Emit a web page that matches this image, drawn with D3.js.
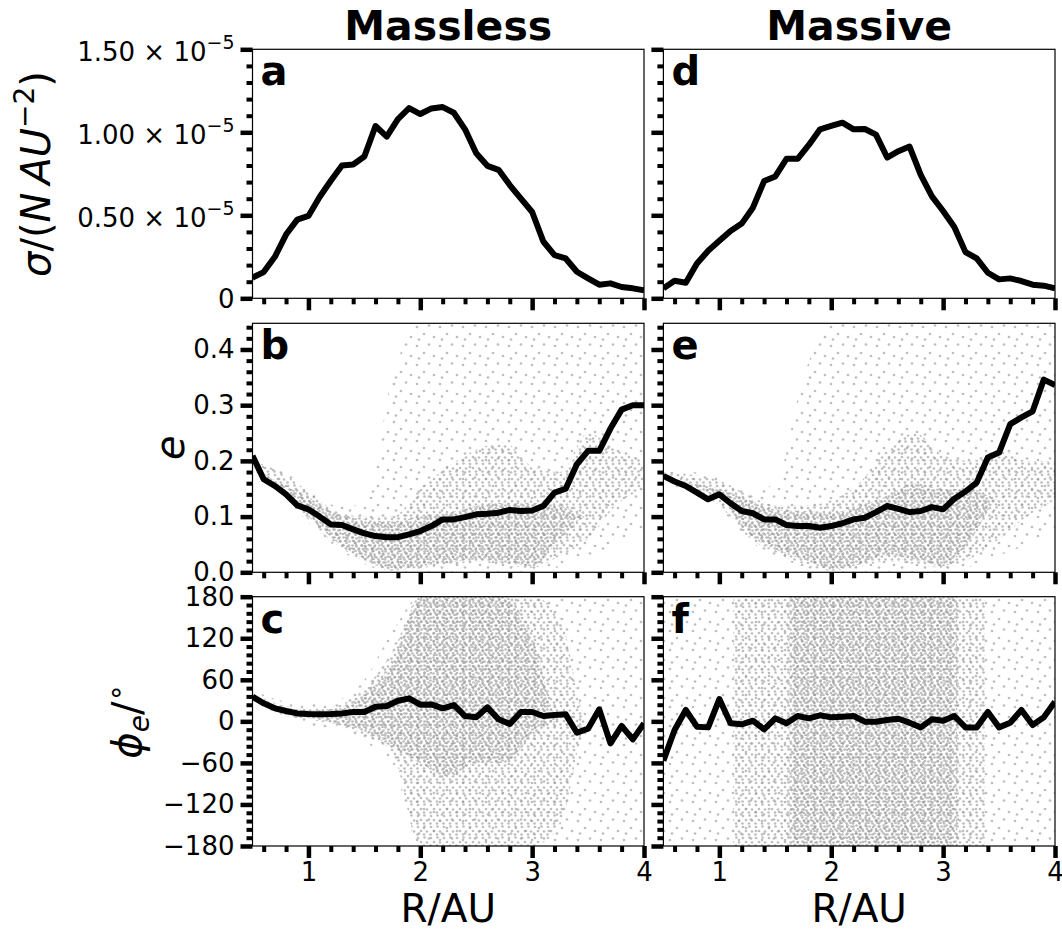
<!DOCTYPE html>
<html>
<head>
<meta charset="utf-8">
<script src="https://cdn.jsdelivr.net/npm/d3@7"></script>
<style>
  body { margin: 0; background: #fff; }
  svg { display: block; font-family: "DejaVu Sans", sans-serif; }
</style>
</head>
<body>
<div id="chart"></div>
<script>
// Radial bins (AU) shared by every curve
const R = [0.5, 0.6, 0.7, 0.8, 0.9, 1.0, 1.1, 1.2, 1.3, 1.4, 1.5, 1.6, 1.7, 1.8, 1.9, 2.0, 2.1, 2.2,
           2.3, 2.4, 2.5, 2.6, 2.7, 2.8, 2.9, 3.0, 3.1, 3.2, 3.3, 3.4, 3.5, 3.6, 3.7, 3.8, 3.9, 4.0];

// surface density, units of 1e-5
const sigmaMassless = [0.124, 0.158, 0.25, 0.384, 0.474, 0.496, 0.61, 0.708, 0.80, 0.806, 0.854, 1.038,
  0.974, 1.08, 1.146, 1.11, 1.144, 1.152, 1.118, 1.018, 0.874, 0.798, 0.774, 0.682, 0.60, 0.52, 0.342,
  0.26, 0.24, 0.16, 0.12, 0.082, 0.09, 0.068, 0.06, 0.048];
const sigmaMassive = [0.06, 0.106, 0.094, 0.21, 0.286, 0.346, 0.406, 0.45, 0.546, 0.706, 0.734, 0.84,
  0.84, 0.924, 1.018, 1.038, 1.058, 1.018, 1.02, 0.986, 0.848, 0.886, 0.914, 0.744, 0.614, 0.526, 0.43,
  0.278, 0.24, 0.154, 0.114, 0.12, 0.104, 0.082, 0.076, 0.06];

// mean eccentricity
const eccMassless = [0.209, 0.167, 0.155, 0.14, 0.12, 0.113, 0.10, 0.086, 0.085, 0.077, 0.07, 0.065,
  0.063, 0.063, 0.068, 0.074, 0.083, 0.095, 0.095, 0.099, 0.104, 0.105, 0.107, 0.112, 0.110, 0.111,
  0.119, 0.143, 0.150, 0.194, 0.218, 0.218, 0.258, 0.292, 0.30, 0.30];
const eccMassive = [0.173, 0.163, 0.155, 0.143, 0.131, 0.14, 0.124, 0.11, 0.106, 0.095, 0.095, 0.085,
  0.083, 0.083, 0.080, 0.083, 0.088, 0.095, 0.098, 0.108, 0.119, 0.114, 0.108, 0.11, 0.117, 0.113,
  0.132, 0.145, 0.161, 0.206, 0.215, 0.266, 0.278, 0.289, 0.346, 0.336];

// mean longitude of pericentre (deg)
const phiMassless = [35.6, 26, 18.8, 14.9, 11.5, 10.6, 10.1, 10.6, 11.5, 13.5, 13.5, 21.2, 22.1, 29.8,
  33.2, 24.1, 24.5, 18.8, 23.6, 7.7, 5.8, 20.2, 2.9, -3.8, 13.5, 13.5, 7.7, 9.1, 10.1, -16.4, -10.6,
  17.3, -31.8, -6.7, -26, -2.9];
const phiMassive = [-56.8, -12.5, 16.4, -7.7, -8.7, 32.2, -2.9, -4.3, 1, -11.5, 4.3, -2.9, 7.7, 4.3,
  8.7, 5.8, 6.7, 7.7, -0.5, -0.5, 1.9, 3.8, -1.9, -8.7, 2.9, 1, 7.7, -8.7, -8.7, 13.5, -8.7, -1.9,
  16.4, -5.3, 5.8, 28.4];

// particle clouds: envelopes of sparse / medium / dense regions, read per 0.25 AU
const cloudR = [0.5, 0.75, 1.0, 1.25, 1.5, 1.75, 2.0, 2.25, 2.5, 2.75, 3.0, 3.25, 3.5, 3.75, 4.0];

const bHaloLo = [0.18, 0.14, 0.09, 0.045, 0.015, 0.0, 0, 0, 0, 0, 0, 0.01, 0.03, 0.05, 0.08];
const bHaloHi = [0.21, 0.19, 0.15, 0.12, 0.12, 0.35, 0.447, 0.447, 0.447, 0.447, 0.447, 0.447, 0.447, 0.447, 0.447];
const bMidLo  = [0.19, 0.143, 0.095, 0.05, 0.02, 0.003, 0.008, 0.012, 0.02, 0.012, 0.008, 0.03, 0.06, 0.12, 0.15];
const bMidHi  = [0.20, 0.18, 0.145, 0.11, 0.10, 0.10, 0.15, 0.19, 0.22, 0.233, 0.19, 0.18, 0.25, 0.22, 0.2];
const bCoreLo = [0.19, 0.15, 0.10, 0.055, 0.023, 0.005, 0.011, 0.017, 0.023, 0.017, 0.011, 0.06, 0.10, 0.10, 0.10];
const bCoreHi = [0.19, 0.16, 0.135, 0.105, 0.095, 0.092, 0.10, 0.107, 0.119, 0.125, 0.125, 0.12, 0.10, 0.10, 0.10];

const eHaloLo = [0.16, 0.14, 0.115, 0.06, 0.03, 0.01, 0, 0, 0, 0, 0, 0.01, 0.03, 0.05, 0.08];
const eHaloHi = [0.18, 0.18, 0.17, 0.145, 0.16, 0.35, 0.447, 0.447, 0.447, 0.447, 0.447, 0.447, 0.447, 0.447, 0.447];
const eMidLo  = [0.17, 0.145, 0.12, 0.065, 0.035, 0.015, 0.003, 0.01, 0.02, 0.015, 0.008, 0.025, 0.06, 0.1, 0.13];
const eMidHi  = [0.18, 0.175, 0.165, 0.14, 0.12, 0.12, 0.13, 0.16, 0.22, 0.25, 0.21, 0.2, 0.22, 0.2, 0.2];
const eCoreLo = [0.17, 0.15, 0.135, 0.071, 0.041, 0.023, 0.005, 0.014, 0.03, 0.023, 0.011, 0.06, 0.13, 0.13, 0.13];
const eCoreHi = [0.17, 0.16, 0.15, 0.131, 0.113, 0.11, 0.107, 0.119, 0.137, 0.16, 0.149, 0.15, 0.13, 0.13, 0.13];

const cHaloLo = [25, 5, -5, -15, -30, -60, -180, -180, -180, -180, -180, -180, -180, -180, -180];
const cHaloHi = [45, 30, 25, 30, 60, 130, 180, 180, 180, 180, 180, 180, 180, 180, 180];
const cMidLo  = [30, 10, 3, -5, -20, -45, -180, -180, -180, -180, -180, -150, 0, 0, 0];
const cMidHi  = [40, 24, 18, 22, 48, 100, 180, 180, 180, 180, 180, 150, 0, 0, 0];
const cCoreLo = [32, 12, 5, -3, -15, -37, -60, -80, -60, -60, -20, 0, 0, 0, 0];
const cCoreHi = [38, 22, 16, 19, 40, 84, 180, 180, 180, 180, 120, 0, 0, 0, 0];

const fHaloLo = [-180, -180, -180, -180, -180, -180, -180, -180, -180, -180, -180, -180, -180, -180, -180];
const fHaloHi = [180, 180, 180, 180, 180, 180, 180, 180, 180, 180, 180, 180, 180, 180, 180];
const fMidLo  = [0, 0, 0, -180, -180, -180, -180, -180, -180, -180, -180, -180, 0, 0, 0];
const fMidHi  = [0, 0, 0, 180, 180, 180, 180, 180, 180, 180, 180, 180, 0, 0, 0];
const fCoreLo = [0, 0, 0, 0, 0, -180, -180, -180, -180, -180, -180, 0, 0, 0, 0];
const fCoreHi = [0, 0, 0, 0, 0, 180, 180, 180, 180, 180, 180, 0, 0, 0, 0];

// ---- layout ----
const width = 1062, height = 931;
const cols = [{ x0: 252.5, x1: 644, title: 'Massless' }, { x0: 663.4, x1: 1055, title: 'Massive' }];
const rows = [
  { y0: 49.3, y1: 298.3, domain: [0, 1.5], major: [0, 0.5, 1.0, 1.5], step: 0.1 },
  { y0: 323.3, y1: 572.3, domain: [0, 0.447], major: [0, 0.1, 0.2, 0.3, 0.4], step: 0.02 },
  { y0: 596.7, y1: 846, domain: [-180, 180], major: [-180, -120, -60, 0, 60, 120, 180], step: 12 }
];
const xMajor = [1, 2, 3, 4];
const tickFont = 26;

const panels = [
  { col: 0, row: 0, letter: 'a', line: sigmaMassless },
  { col: 0, row: 1, letter: 'b', line: eccMassless,
    cloud: [[bHaloLo, bHaloHi], [bMidLo, bMidHi], [bCoreLo, bCoreHi]] },
  { col: 0, row: 2, letter: 'c', line: phiMassless,
    cloud: [[cHaloLo, cHaloHi], [cMidLo, cMidHi], [cCoreLo, cCoreHi]] },
  { col: 1, row: 0, letter: 'd', line: sigmaMassive },
  { col: 1, row: 1, letter: 'e', line: eccMassive,
    cloud: [[eHaloLo, eHaloHi], [eMidLo, eMidHi], [eCoreLo, eCoreHi]] },
  { col: 1, row: 2, letter: 'f', line: phiMassive, stepped: true,
    cloud: [[fHaloLo, fHaloHi], [fMidLo, fMidHi], [fCoreLo, fCoreHi]] }
];

const svg = d3.select('#chart').append('svg')
  .attr('width', width).attr('height', height);
const defs = svg.append('defs');

// stipple textures standing in for the scattered particles
function addPattern(id, w, h, dots) {
  const p = defs.append('pattern').attr('id', id)
    .attr('patternUnits', 'userSpaceOnUse').attr('width', w).attr('height', h);
  p.selectAll('circle').data(dots).join('circle')
    .attr('cx', d => d[0]).attr('cy', d => d[1]).attr('r', 1.35)
    .attr('fill', '#969696').attr('fill-opacity', 0.62);
}
addPattern('dots-halo', 23, 19, [[3, 4], [15, 2.5], [10, 11], [20, 14], [5, 16.5]]);
addPattern('dots-mid', 13, 11, [[2, 2], [8.5, 1.5], [5, 6], [11, 6.5], [1.5, 9.5], [8, 9.5]]);
addPattern('dots-core', 9, 8, [[1.5, 1.5], [5.5, 2.5], [3, 5], [7.5, 5.5], [4.5, 7]]);
const layerFill = ['url(#dots-halo)', 'url(#dots-mid)', 'url(#dots-core)'];

function styleAxis(ax, w) {
  ax.select('.domain').remove();
  ax.selectAll('line').attr('stroke', '#000').attr('stroke-width', w);
  ax.attr('font-size', tickFont).attr('font-family', '"DejaVu Sans", sans-serif');
  ax.selectAll('text').attr('fill', '#000');
}

function minorTicks(lo, hi, step, major) {
  return d3.range(lo, hi + step / 2, step)
    .filter(v => !major.some(m => Math.abs(m - v) < step / 10));
}

panels.forEach(p => {
  const c = cols[p.col], r = rows[p.row];
  const x = d3.scaleLinear().domain([0.5, 4]).range([c.x0, c.x1]);
  const y = d3.scaleLinear().domain(r.domain).range([r.y1, r.y0]);
  const g = svg.append('g');

  const clipId = 'clip-' + p.letter;
  defs.append('clipPath').attr('id', clipId).append('rect')
    .attr('x', c.x0).attr('y', r.y0).attr('width', c.x1 - c.x0).attr('height', r.y1 - r.y0);
  const plot = g.append('g').attr('clip-path', `url(#${clipId})`);

  if (p.cloud) {
    p.cloud.forEach((band, k) => {
      const area = d3.area()
        .x((d, i) => x(cloudR[i]))
        .y0((d, i) => y(band[0][i]))
        .y1((d, i) => y(band[1][i]))
        .curve(p.stepped ? d3.curveStep : d3.curveMonotoneX);
      plot.append('path').datum(cloudR).attr('d', area).attr('fill', layerFill[k]);
    });
  }

  const line = d3.line().x((d, i) => x(R[i])).y(d => y(d));
  plot.append('path').datum(p.line).attr('d', line)
    .attr('fill', 'none').attr('stroke', '#000').attr('stroke-width', 6)
    .attr('stroke-linejoin', 'round');

  g.append('rect').attr('x', c.x0).attr('y', r.y0)
    .attr('width', c.x1 - c.x0).attr('height', r.y1 - r.y0)
    .attr('fill', 'none').attr('stroke', '#000').attr('stroke-width', 1.2);

  // x ticks (labels only on the bottom row)
  g.append('g').attr('transform', `translate(0,${r.y1})`)
    .call(d3.axisBottom(x).tickValues(xMajor).tickSize(12).tickPadding(5)
      .tickFormat(p.row === 2 ? d3.format('d') : ''))
    .call(ax => styleAxis(ax, 4.5));
  g.append('g').attr('transform', `translate(0,${r.y1})`)
    .call(d3.axisBottom(x).tickValues(minorTicks(0.6, 3.8, 0.2, xMajor)).tickSize(6).tickFormat(''))
    .call(ax => styleAxis(ax, 4));

  // y ticks (labels only on the left column)
  const simple = p.col === 0 && p.row > 0;
  g.append('g').attr('transform', `translate(${c.x0},0)`)
    .call(d3.axisLeft(y).tickValues(r.major).tickSize(12).tickPadding(6)
      .tickFormat(simple ? (p.row === 1 ? d3.format('.1f') : d => String(d).replace('-', '\u2212')) : ''))
    .call(ax => styleAxis(ax, 4.5));
  g.append('g').attr('transform', `translate(${c.x0},0)`)
    .call(d3.axisLeft(y).tickValues(minorTicks(r.domain[0], r.domain[1], r.step, r.major)).tickSize(6).tickFormat(''))
    .call(ax => styleAxis(ax, 4));

  if (p.col === 0 && p.row === 0) {
    g.append('g').selectAll('text').data(r.major).join('text')
      .attr('x', c.x0 - 18).attr('y', d => y(d) + (d === 0 ? 9.5 : 11.5))
      .attr('text-anchor', 'end').attr('font-size', tickFont).attr('fill', '#000')
      .each(function (d) {
        const t = d3.select(this);
        if (d === 0) { t.text('0'); return; }
        t.append('tspan').text(d.toFixed(2) + ' \u00d7 10');
        t.append('tspan').attr('dy', -12).attr('font-size', 19).text('\u22125');
      });
  }

  g.append('text').attr('x', c.x0 + 8).attr('y', r.y0 + 36)
    .attr('font-size', 40).attr('font-weight', 'bold').attr('fill', '#000')
    .text(p.letter);
});

// column titles and x labels
cols.forEach(c => {
  const mid = (c.x0 + c.x1) / 2;
  svg.append('text').attr('x', mid).attr('y', 40).attr('text-anchor', 'middle')
    .attr('font-size', 41).attr('font-weight', 'bold').text(c.title);
  svg.append('text').attr('x', mid).attr('y', 922).attr('text-anchor', 'middle')
    .attr('font-size', 39).text('R/AU');
});

// y labels (mathtext style)
const ySigma = svg.append('text').attr('transform', 'translate(50,174) rotate(-90)')
  .attr('text-anchor', 'middle').attr('font-size', 40);
ySigma.append('tspan').attr('font-style', 'italic').text('\u03c3');
ySigma.append('tspan').text('/(');
ySigma.append('tspan').attr('font-style', 'italic').text('N\u2009AU');
ySigma.append('tspan').attr('dy', -16).attr('font-size', 28).text('\u22122');
ySigma.append('tspan').attr('dy', 16).text(')');

svg.append('text').attr('transform', `translate(184,${(rows[1].y0 + rows[1].y1) / 2}) rotate(-90)`)
  .attr('text-anchor', 'middle').attr('font-size', 40).attr('font-style', 'italic').text('e');

const yPhi = svg.append('text').attr('transform', `translate(141,${(rows[2].y0 + rows[2].y1) / 2}) rotate(-90)`)
  .attr('text-anchor', 'middle').attr('font-size', 40);
yPhi.append('tspan').attr('font-style', 'italic').text('\u03d5');
yPhi.append('tspan').attr('font-style', 'italic').attr('font-size', 28).attr('dy', 8).text('e');
yPhi.append('tspan').attr('dy', -8).text('/');
yPhi.append('tspan').attr('dy', -16).attr('font-size', 28).text('\u2218');
</script>
</body>
</html>
